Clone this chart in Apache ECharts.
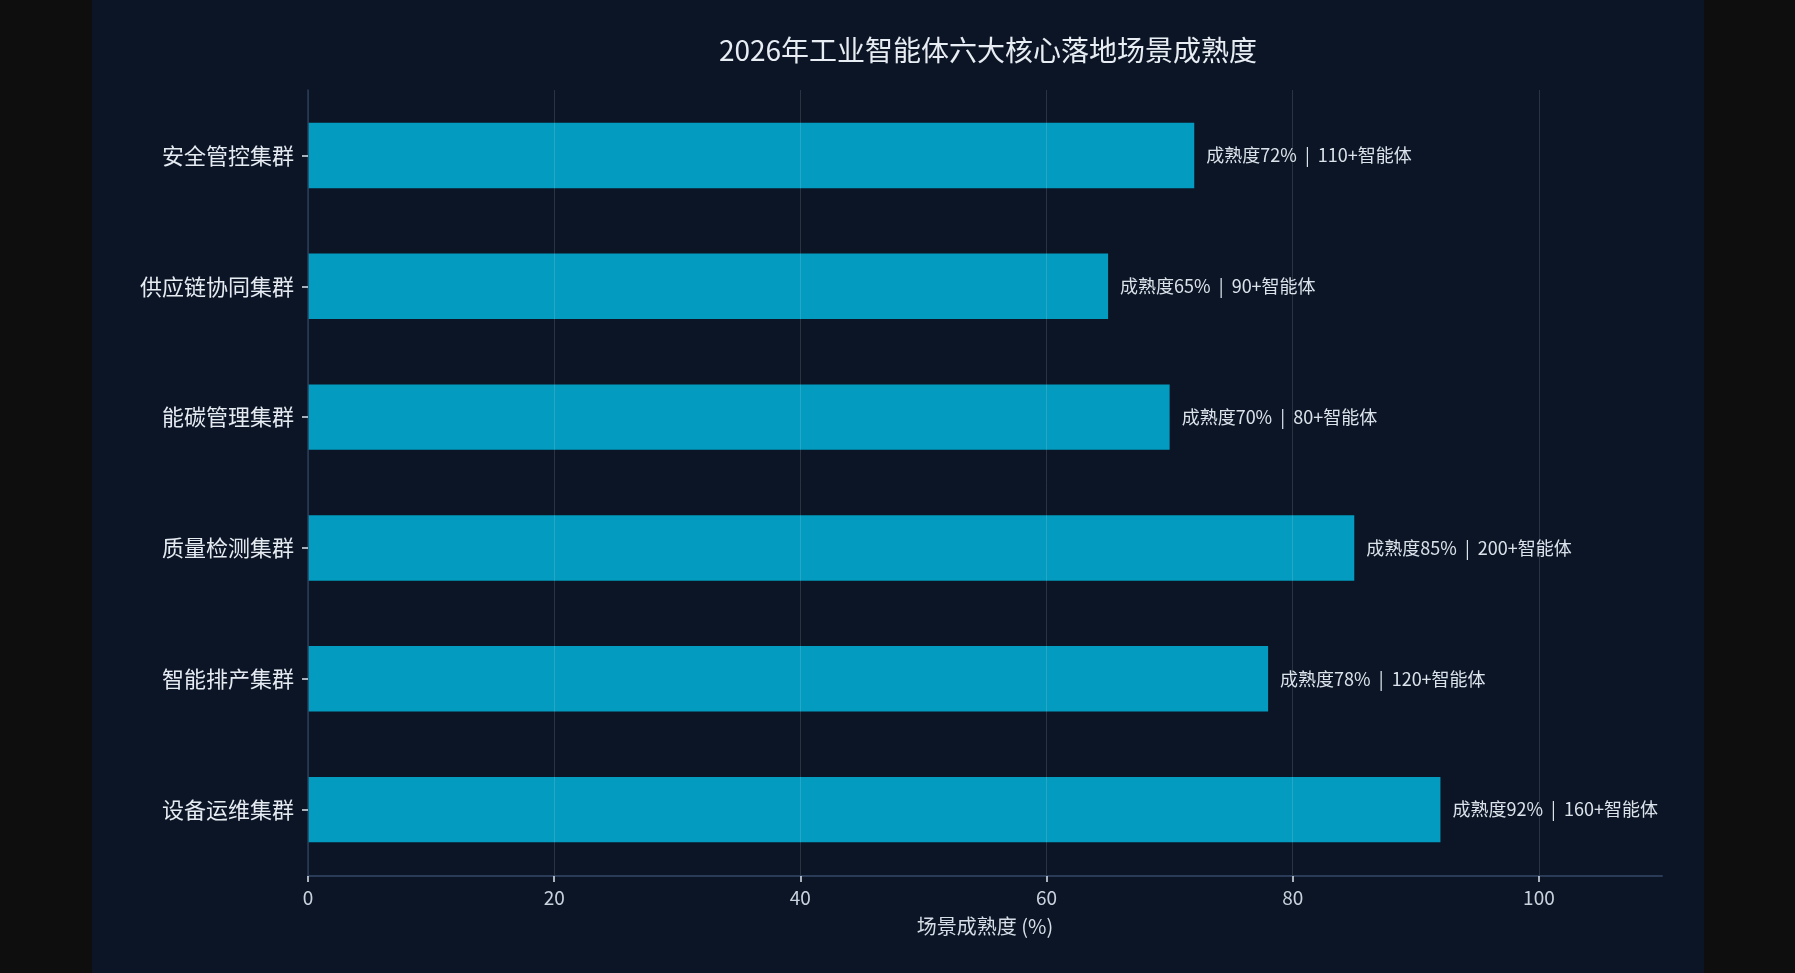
<!DOCTYPE html>
<html>
<head>
<meta charset="utf-8">
<title>2026年工业智能体六大核心落地场景成熟度</title>
<script src="https://cdn.jsdelivr.net/npm/echarts@6/dist/echarts.min.js"></script>
<style>
  html, body { margin: 0; padding: 0; background: #0e0e0e; }
  #chart { width: 1612px; height: 973px; margin: 0 auto; background: #0b1526; }
</style>
</head>
<body>
<div id="chart"></div>
<script>
// 数据（自下而上）
var categories = ['设备运维集群', '智能排产集群', '质量检测集群', '能碳管理集群', '供应链协同集群', '安全管控集群'];
var maturity = [92, 78, 85, 70, 65, 72];
var agents = [160, 120, 200, 80, 90, 110];
var xTicks = [0, 20, 40, 60, 80, 100];

var chart = echarts.init(document.getElementById('chart'));
var font = '"Noto Sans CJK SC", "Noto Sans", sans-serif';

var option = {
    backgroundColor: '#0b1526',
    textStyle: { fontFamily: font },
    title: {
        text: '2026年工业智能体六大核心落地场景成熟度',
        left: 891,
        top: 31,
        textAlign: 'center',
        textStyle: { color: '#e8edf3', fontSize: 28, fontWeight: 'normal', fontFamily: font }
    },
    grid: { left: 216, right: 42, top: 90, bottom: 98 },
    xAxis: {
        type: 'value',
        min: 0,
        max: 110,
        interval: 20,
        z: 3,
        offset: 1,
        name: '场景成熟度 (%)',
        nameLocation: 'middle',
        nameGap: 40,
        nameTextStyle: { color: '#d6dde6', fontSize: 20, fontFamily: font },
        axisLine: { show: true, lineStyle: { color: '#2a3b57', width: 2 } },
        axisTick: { show: true, length: 6, lineStyle: { color: '#dfe5ec', width: 1.5 }, customValues: xTicks },
        axisLabel: { color: '#c9d1dc', fontSize: 19, margin: 12, customValues: xTicks },
        splitLine: { show: true, lineStyle: { color: 'rgba(255,255,255,0.13)', width: 1 } }
    },
    yAxis: {
        type: 'category',
        data: categories,
        z: 3,
        axisLine: { show: true, lineStyle: { color: '#2a3b57', width: 1.5 } },
        axisTick: { show: true, alignWithLabel: true, length: 6, lineStyle: { color: '#dfe5ec', width: 1.5 } },
        axisLabel: { color: '#e6ebf2', fontSize: 22, margin: 14 },
        splitLine: { show: false }
    },
    series: [{
        type: 'bar',
        data: maturity,
        barWidth: '50%',
        itemStyle: { color: '#039cc0' },
        label: {
            show: true,
            position: 'right',
            distance: 12,
            color: '#dbe2ea',
            fontSize: 18,
            fontFamily: font,
            formatter: function (p) {
                return '成熟度' + p.value + '%  |  ' + agents[p.dataIndex] + '+智能体';
            }
        }
    }]
};
chart.setOption(option);

window.addEventListener('resize', function () {
    chart.resize();
});
</script>
</body>
</html>
